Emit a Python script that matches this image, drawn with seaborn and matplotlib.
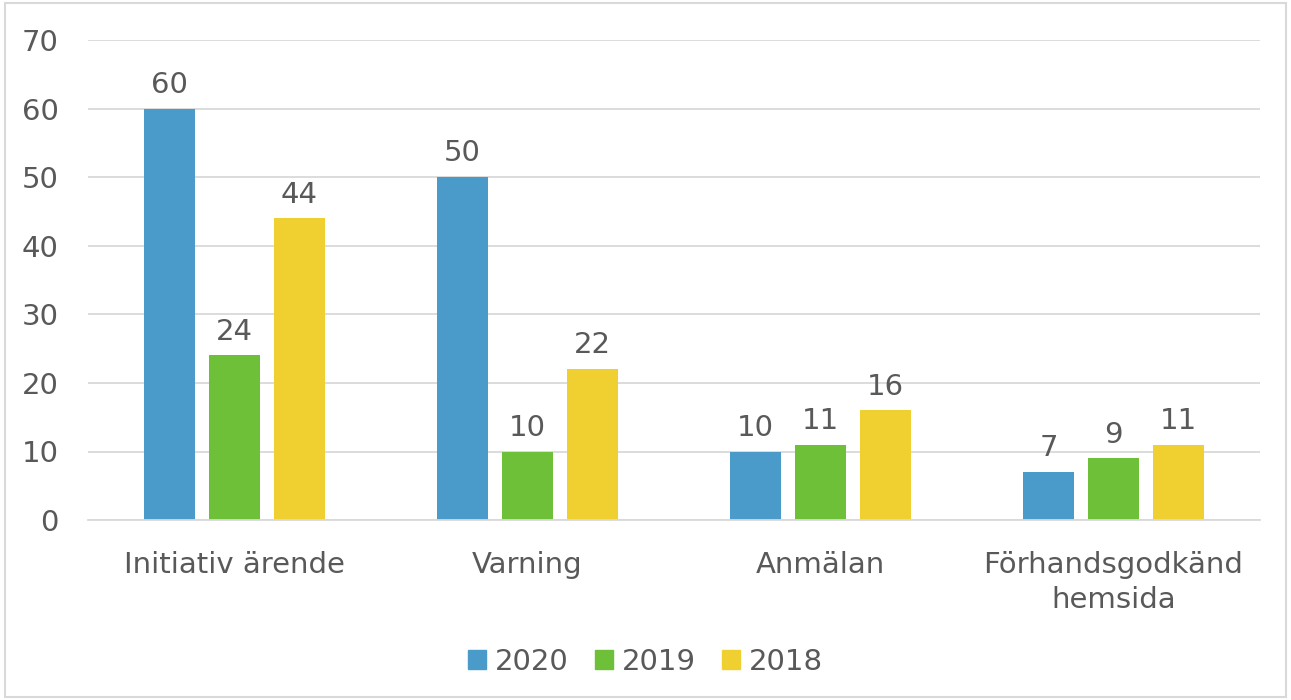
import pandas as pd
import matplotlib.pyplot as plt
import matplotlib.patches as mpatches
import seaborn as sns

categories = ["Initiativ ärende", "Varning", "Anmälan", "Förhandsgodkänd\nhemsida"]
years = ["2020", "2019", "2018"]
v2020 = [60, 50, 10, 7]
v2019 = [24, 10, 11, 9]
v2018 = [44, 22, 16, 11]
colors = ["#4A9BCA", "#6DC037", "#F0D030"]

rows = []
for year, vals in zip(years, [v2020, v2019, v2018]):
    for cat, v in zip(categories, vals):
        rows.append({"Kategori": cat, "År": year, "Antal": v})
df = pd.DataFrame(rows)

sns.set_style("white")
plt.rcParams["font.family"] = ["DejaVu Sans"]
txt = "#595959"
fs = 21

fig = plt.figure(figsize=(12.91, 7.0), dpi=100)
ax = fig.add_axes([0.068, 0.257, 0.908, 0.686])

sns.barplot(data=df, x="Kategori", y="Antal", hue="År", palette=colors,
            width=0.665, gap=0.22, saturation=1, linewidth=0, ax=ax, legend=False)

for cont in ax.containers:
    ax.bar_label(cont, padding=7, fontsize=fs, color=txt)

ax.set_ylim(0, 70)
ax.set_xlim(-0.5, 3.5)
ax.set_yticks(range(0, 71, 10))
ax.yaxis.grid(True, color="#D9D9D9", linewidth=1.3)
ax.set_axisbelow(True)
for s in ["top", "right", "left"]:
    ax.spines[s].set_visible(False)
ax.spines["bottom"].set_color("#D9D9D9")
ax.spines["bottom"].set_linewidth(1.3)
ax.tick_params(axis="both", length=0, labelsize=fs, labelcolor=txt)
ax.tick_params(axis="x", pad=22)
ax.tick_params(axis="y", pad=21)
for lbl in ax.get_xticklabels():
    lbl.set_linespacing(1.35)
ax.set_xlabel("")
ax.set_ylabel("")

handles = [mpatches.Patch(color=c, label=y) for c, y in zip(colors, years)]
fig.legend(handles=handles, loc="center", bbox_to_anchor=(0.5, 0.055), ncol=3,
           frameon=False, fontsize=fs, labelcolor=txt, handlelength=0.62,
           handleheight=0.62, handletextpad=0.3, columnspacing=0.9)

fig.patches.append(mpatches.Rectangle((0.004, 0.004), 0.992, 0.992, transform=fig.transFigure,
                                      fill=False, edgecolor="#D9D9D9", linewidth=1.5))

fig.savefig("out.png", dpi=100)
